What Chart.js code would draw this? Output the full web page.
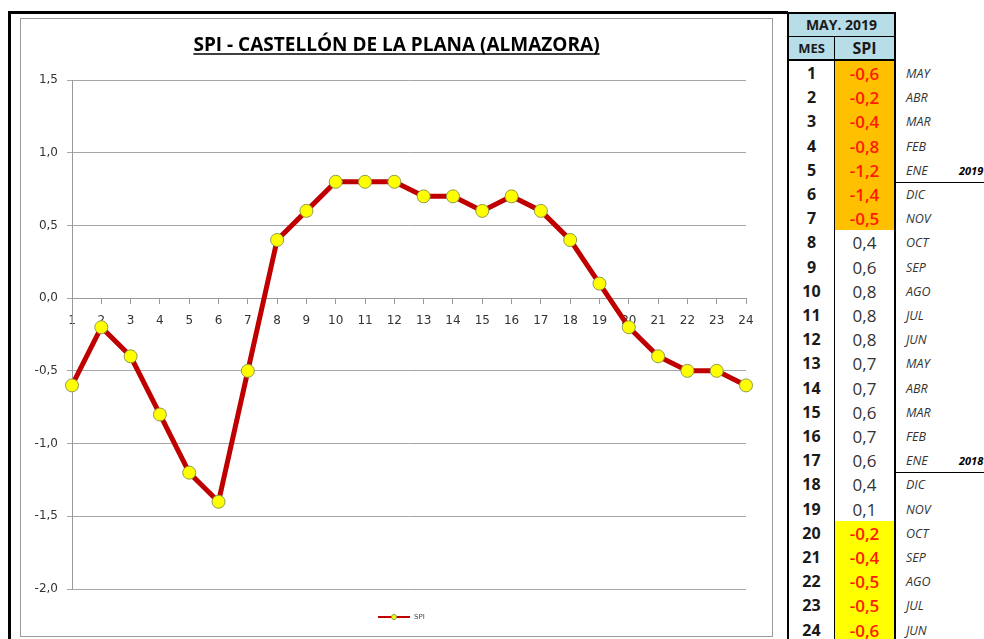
<!DOCTYPE html>
<html>
<head>
<meta charset="utf-8">
<script src="https://cdn.jsdelivr.net/npm/chart.js@4/dist/chart.umd.min.js"></script>
<style>
  body { margin: 0; background: #fff; width: 984px; height: 639px; overflow: hidden; position: relative; }
  #topLine { position: absolute; left: 8px; top: 11px; width: 780px; height: 3px; background: #000; }
  #leftLine { position: absolute; left: 8px; top: 11px; width: 3px; height: 640px; background: #000; }
  #frame { position: absolute; left: 20px; top: 18px; width: 751px; height: 617px; border: 1px solid #9a9a9a; }
  #frame canvas { display: block; }
  .cell { position: absolute; box-sizing: border-box; text-align: center; font-family: "Open Sans", Arial, sans-serif; color: #000; }
  .mon { position: absolute; font-family: "Open Sans", Arial, sans-serif; font-style: italic; font-size: 12.5px; color: #333; }
</style>
</head>
<body>
<div id="topLine"></div>
<div id="leftLine"></div>
<div id="frame"><canvas id="spiChart" width="751" height="617"></canvas></div>
<div id="table"></div>
<script>
const labels = ['1','2','3','4','5','6','7','8','9','10','11','12','13','14','15','16','17','18','19','20','21','22','23','24'];
const spiValues = [-0.6, -0.2, -0.4, -0.8, -1.2, -1.4, -0.5, 0.4, 0.6, 0.8, 0.8, 0.8, 0.7, 0.7, 0.6, 0.7, 0.6, 0.4, 0.1, -0.2, -0.4, -0.5, -0.5, -0.6];
const monthNames = ['MAY','ABR','MAR','FEB','ENE','DIC','NOV','OCT','SEP','AGO','JUL','JUN','MAY','ABR','MAR','FEB','ENE','DIC','NOV','OCT','SEP','AGO','JUL','JUN'];
const cellHighlight = ['o','o','o','o','o','o','o','','','','','','','','','','','','','y','y','y','y','y'];
const yearRows = { 5: '2019', 17: '2018' };
const tableTitle = 'MAY. 2019';
const chartTitle = 'SPI - CASTELLÓN DE LA PLANA (ALMAZORA)';

function fmt(v) {
    return v.toFixed(1).replace('.', ',');
}

// title underline
const underlinePlugin = {
    id: 'underline',
    afterDraw(chart) {
        const tb = chart.titleBlock;
        const opts = chart.options.plugins.title;
        const ctx = chart.ctx;
        ctx.save();
        ctx.font = `bold ${opts.font.size}px "${opts.font.family}"`;
        const w = ctx.measureText(opts.text).width;
        const cx = (tb.left + tb.right) / 2;
        const y = tb.top + opts.padding.top + opts.font.size * 1.2 / 2 + opts.font.size * 0.45;
        ctx.strokeStyle = '#000';
        ctx.lineWidth = 1.5;
        ctx.beginPath();
        ctx.moveTo(cx - w / 2, y);
        ctx.lineTo(cx + w / 2, y);
        ctx.stroke();
        ctx.restore();
    }
};

// small legend: line with marker + label
const lineLegend = {
    id: 'lineLegend',
    afterDraw(chart) {
        const ds = chart.data.datasets[0];
        const ctx = chart.ctx;
        const x = 357, y = 598;
        ctx.save();
        ctx.strokeStyle = ds.borderColor;
        ctx.lineWidth = 2;
        ctx.beginPath();
        ctx.moveTo(x, y);
        ctx.lineTo(x + 32, y);
        ctx.stroke();
        ctx.fillStyle = ds.pointBackgroundColor;
        ctx.strokeStyle = ds.pointBorderColor;
        ctx.lineWidth = 1;
        ctx.beginPath();
        ctx.arc(x + 16, y, 2.5, 0, Math.PI * 2);
        ctx.fill();
        ctx.stroke();
        ctx.fillStyle = '#444';
        ctx.font = '7px "DejaVu Sans"';
        ctx.textBaseline = 'middle';
        ctx.fillText(ds.label, x + 36, y);
        ctx.restore();
    }
};

const ctx = document.getElementById('spiChart').getContext('2d');
new Chart(ctx, {
    type: 'line',
    data: {
        labels: labels,
        datasets: [{
            label: 'SPI',
            data: spiValues,
            borderColor: '#c00000',
            borderWidth: 5,
            pointBackgroundColor: '#ffff00',
            pointBorderColor: '#8f9a4a',
            pointBorderWidth: 1,
            pointRadius: 6.5,
            tension: 0,
            fill: false
        }]
    },
    options: {
        responsive: false,
        animation: false,
        layout: { padding: { left: 0, right: 0, top: 0, bottom: 47 } },
        scales: {
            x: {
                type: 'category',
                offset: false,
                position: { y: 0 },
                grid: { drawOnChartArea: false, drawTicks: true, tickLength: 5, color: '#9a9a9a' },
                border: { color: '#9a9a9a', width: 1 },
                ticks: {
                    color: '#333',
                    font: { family: 'DejaVu Sans', size: 12 },
                    padding: 11,
                    maxRotation: 0,
                    autoSkip: false
                }
            },
            y: {
                min: -2,
                max: 1.5,
                afterFit(scale) { scale.width = 51; },
                grid: { color: '#a6a6a6', lineWidth: 1, tickLength: 5 },
                border: { color: '#9a9a9a', width: 1 },
                ticks: {
                    stepSize: 0.5,
                    color: '#333',
                    font: { family: 'DejaVu Sans', size: 12 },
                    padding: 9,
                    callback: (v) => fmt(v)
                }
            },
            // empty right-hand spacer so the title centres on the whole frame
            ySpacer: {
                type: 'linear',
                position: 'right',
                afterFit(scale) { scale.width = 26; },
                grid: { display: false },
                border: { display: false },
                ticks: { display: false }
            }
        },
        plugins: {
            legend: { display: false },
            tooltip: { enabled: false },
            title: {
                display: true,
                text: chartTitle,
                color: '#000',
                font: { family: 'Open Sans', size: 19, weight: 'bold' },
                padding: { top: 15, bottom: 23.2 }
            }
        }
    },
    plugins: [underlinePlugin, lineLegend]
});

// side table
const table = document.getElementById('table');
function addCell(left, top, width, height, text, style) {
    const d = document.createElement('div');
    d.className = 'cell';
    d.style.left = left + 'px';
    d.style.top = top + 'px';
    d.style.width = width + 'px';
    d.style.height = height + 'px';
    d.style.lineHeight = height + 'px';
    d.textContent = text;
    Object.assign(d.style, style || {});
    table.appendChild(d);
    return d;
}
const tL = 787, tMid = 835, tR = 896;
const rowTop = 61, rowH = 24.2;
addCell(tL, 12, tR - tL, 25, tableTitle, { background: '#b7dee8', fontWeight: 'bold', fontSize: '14px', border: '2px solid #000', borderBottom: '1px solid #000', lineHeight: '22px', color: '#1a1a1a' });
addCell(tL, 37, tMid - tL, 24, 'MES', { background: '#b7dee8', fontWeight: 'bold', fontSize: '13px', borderLeft: '2px solid #000', borderRight: '1px solid #000', borderBottom: '2px solid #000', lineHeight: '22px', color: '#1a1a1a' });
addCell(tMid, 37, tR - tMid, 24, 'SPI', { background: '#b7dee8', fontWeight: 'bold', fontSize: '16px', borderRight: '2px solid #000', borderBottom: '2px solid #000', lineHeight: '22px', color: '#1a1a1a' });
labels.forEach((lab, i) => {
    const top = rowTop + i * rowH;
    const v = spiValues[i];
    const hl = cellHighlight[i];
    addCell(tL, top, tMid - tL, rowH + 1, lab, { fontWeight: 'bold', fontSize: '16px', borderLeft: '2px solid #000', borderRight: '1px solid #000', borderBottom: '1px solid #000', background: '#fff', color: '#1a1a1a' });
    addCell(tMid, top, tR - tMid, rowH + 1, fmt(v), {
        fontSize: '17px',
        fontWeight: hl ? '600' : 'normal',
        color: hl ? '#ff1a00' : '#333',
        background: hl === 'o' ? '#ffc000' : (hl === 'y' ? '#ffff00' : '#fff'),
        borderRight: '2px solid #000',
        borderBottom: '1px solid #000'
    });
    const m = document.createElement('div');
    m.className = 'mon';
    m.style.left = '906px';
    m.style.top = (top + 4) + 'px';
    m.textContent = monthNames[i];
    table.appendChild(m);
    if (yearRows[i + 1]) {
        const y = document.createElement('div');
        y.className = 'mon';
        y.style.left = '959px';
        y.style.top = (top + 5) + 'px';
        y.style.fontWeight = 'bold';
        y.style.fontSize = '11px';
        y.style.color = '#000';
        y.textContent = yearRows[i + 1];
        table.appendChild(y);
        const ln = document.createElement('div');
        ln.style.cssText = `position:absolute;left:${tR}px;top:${Math.round(top + rowH)}px;width:${984 - tR}px;height:1px;background:#000;`;
        table.appendChild(ln);
    }
});
</script>
</body>
</html>
